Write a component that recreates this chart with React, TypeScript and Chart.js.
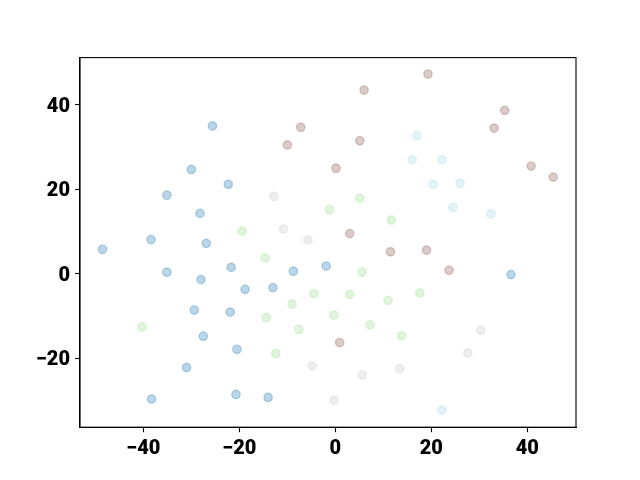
import React, { useEffect, useRef } from "react";
import { Chart, registerables } from "chart.js";

Chart.register(...registerables);

const blueX = [-48.5, -38.4, -26.9, -25.6, -30.0, -22.3, -35.1, -28.2, -35.1, -28.0, -21.7, -8.75, -1.9, -18.8, -13.0, -29.4, -21.9, -27.5, -20.5, -31.0, -38.3, -20.7, -14.0, 36.6];
const blueY = [5.8, 8.1, 7.2, 35.0, 24.7, 21.2, 18.6, 14.3, 0.35, -1.4, 1.5, 0.6, 1.8, -3.7, -3.3, -8.6, -9.1, -14.8, -17.9, -22.2, -29.7, -28.6, -29.3, -0.2];

const greenX = [-19.4, -1.2, 5.1, 11.7, -14.6, -4.5, -9.0, -14.4, -7.6, -40.3, -12.4, 5.6, 3.0, 11.0, 17.6, -0.3, 7.2, 13.8];
const greenY = [10.1, 15.2, 17.9, 12.7, 3.7, -4.7, -7.2, -10.4, -13.2, -12.6, -18.9, 0.4, -4.9, -6.3, -4.6, -9.8, -12.1, -14.7];

const brownX = [-7.2, -10.0, 19.3, 6.0, 35.3, 33.1, 5.1, 0.15, 40.8, 45.4, 3.0, 11.5, 19.0, 23.7, 0.9];
const brownY = [34.7, 30.5, 47.3, 43.5, 38.7, 34.5, 31.5, 25.0, 25.5, 22.9, 9.5, 5.2, 5.6, 0.8, -16.3];

const grayX = [-12.8, -10.8, -5.7, -4.8, 30.3, 27.6, 5.6, 13.4, -0.3];
const grayY = [18.3, 10.6, 8.0, -21.8, -13.4, -18.8, -24.0, -22.5, -30.0];

const cyanX = [17.0, 16.0, 22.2, 20.4, 26.0, 24.5, 32.4, 22.2];
const cyanY = [32.7, 27.0, 27.0, 21.2, 21.4, 15.7, 14.2, -32.3];

const xTicks = [-40, -20, 0, 20, 40];
const yTicks = [-20, 0, 20, 40];

const toPts = (xs: number[], ys: number[]) => xs.map((x, i) => ({ x, y: ys[i] }));
const fmt = (v: any) => String(v).replace("-", "\u2212");

const frame = {
  id: "frame",
  afterDatasetsDraw(chart: any) {
    const { ctx, chartArea } = chart;
    ctx.save();
    ctx.strokeStyle = "#000";
    ctx.lineWidth = 1.1;
    ctx.strokeRect(chartArea.left, chartArea.top, chartArea.right - chartArea.left, chartArea.bottom - chartArea.top);
    ctx.restore();
  },
};

export default function App() {
  const ref = useRef<HTMLCanvasElement>(null);
  useEffect(() => {
    if (!ref.current) return;
    const mk = (xs: number[], ys: number[], rgb: string) => ({
      data: toPts(xs, ys),
      backgroundColor: `rgba(${rgb},0.3)`,
      borderColor: `rgba(${rgb},0.3)`,
      borderWidth: 1.4,
      pointRadius: 4.17,
      pointHoverRadius: 4.17,
    });
    const font = { family: "Roboto, sans-serif", size: 20, weight: 900 as any, lineHeight: 1.0 };
    const chart = new Chart(ref.current, {
      type: "scatter",
      data: {
        datasets: [
          mk(blueX, blueY, "31,119,180"),
          mk(greenX, greenY, "152,223,138"),
          mk(brownX, brownY, "140,86,75"),
          mk(grayX, grayY, "199,199,199"),
          mk(cyanX, cyanY, "158,218,229"),
        ],
      },
      options: {
        animation: false,
        responsive: false,
        layout: { padding: { left: 0, right: 64, top: 57.6, bottom: 0 } },
        plugins: { legend: { display: false }, tooltip: { enabled: false } },
        scales: {
          x: {
            type: "linear",
            min: -53.2,
            max: 50.15,
            afterBuildTicks: (s: any) => {
              s.ticks = xTicks.map((v) => ({ value: v }));
            },
            afterFit: (s: any) => {
              s.height = 52.8;
            },
            grid: { drawOnChartArea: false, tickLength: 5, color: "#000", tickWidth: 1.1 },
            border: { display: true, color: "#000", width: 1.1 },
            ticks: { color: "#000", font, padding: 7, maxRotation: 0, callback: (v: any) => fmt(v) },
          },
          y: {
            type: "linear",
            min: -36.35,
            max: 51.2,
            afterBuildTicks: (s: any) => {
              s.ticks = yTicks.map((v) => ({ value: v }));
            },
            afterFit: (s: any) => {
              s.width = 80;
            },
            grid: { drawOnChartArea: false, tickLength: 5, color: "#000", tickWidth: 1.1 },
            border: { display: true, color: "#000", width: 1.1 },
            ticks: { color: "#000", font, padding: 5, labelOffset: 2, callback: (v: any) => fmt(v) },
          },
        },
      },
      plugins: [frame],
    });
    return () => chart.destroy();
  }, []);
  return (
    <div style={{ position: "fixed", left: 0, top: 0, width: 640, height: 480, background: "#fff" }}>
      <canvas ref={ref} width={640} height={480} style={{ width: 640, height: 480 }} />
    </div>
  );
}
